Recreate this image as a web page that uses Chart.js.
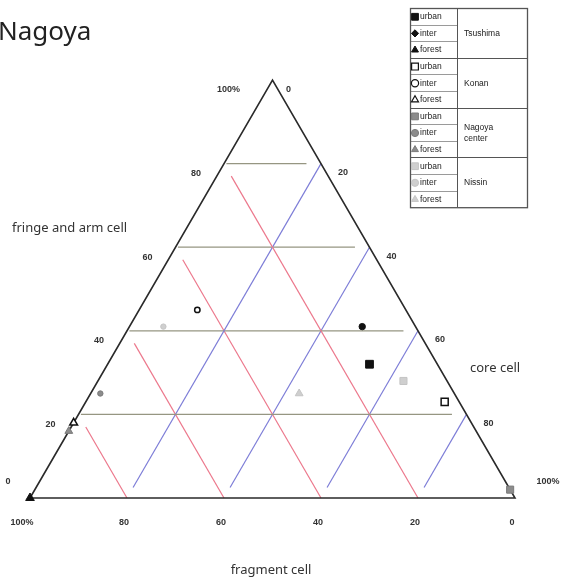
<!DOCTYPE html>
<html>
<head>
<meta charset="utf-8">
<script src="https://cdn.jsdelivr.net/npm/chart.js@4.4.0/dist/chart.umd.min.js"></script>
<style>
html, body { margin: 0; padding: 0; background: #fff; }
canvas { display: block; }
</style>
</head>
<body>
<canvas id="ternChart" width="561" height="581"></canvas>
<script>
const sites = ['Tsushima', 'Konan', 'Nagoya center', 'Nissin'];
const landUse = ['urban', 'inter', 'forest'];

// percent of fringe and arm cell / core cell / fragment cell (urban, inter, forest)
const fringeTsushima = [32, 41, 0];
const coreTsushima = [54, 48, 0];
const fragmentTsushima = [14, 11, 100];

const fringeKonan = [23, 45, 18];
const coreKonan = [74, 12, 0];
const fragmentKonan = [3, 43, 82];

const fringeNagoya = [2, 25, 16];
const coreNagoya = [98, 2, 0];
const fragmentNagoya = [0, 73, 84];

const fringeNissin = [28, 41, 25];
const coreNissin = [63, 7, 43];
const fragmentNissin = [9, 52, 32];

const gridLevels = [20, 40, 60, 80];
const fringeTicks = ['0', '20', '40', '60', '80', '100%'];
const coreTicks = ['0', '20', '40', '60', '80', '100%'];
const fragmentTicks = ['0', '20', '40', '60', '80', '100%'];

const H = Math.sqrt(3) / 2;

// ternary -> cartesian (fringe at top, core at bottom right, fragment at bottom left)
function tern(fr, co, fg) {
    let s = fr + co + fg;
    return { x: (co + fr / 2) / s, y: fr / s * H };
}

const siteStyles = [
    { fill: '#111', border: '#111' },
    { fill: '#fff', border: '#111' },
    { fill: '#8c8c8c', border: '#7a7a7a' },
    { fill: '#cfcfcf', border: '#c4c4c4' }
];
const shapes = ['rect', 'circle', 'triangle'];
const sizes = [5.5, 3.2, 5];

let siteData = [
    [fringeTsushima, coreTsushima, fragmentTsushima],
    [fringeKonan, coreKonan, fragmentKonan],
    [fringeNagoya, coreNagoya, fragmentNagoya],
    [fringeNissin, coreNissin, fragmentNissin]
];

let datasets = [];

siteData.forEach((d, si) => {
    landUse.forEach((lu, li) => {
        datasets.push({
            label: sites[si] + ' ' + lu,
            type: 'scatter',
            data: [tern(d[0][li], d[1][li], d[2][li])],
            pointStyle: shapes[li],
            pointRadius: si === 0 ? sizes[li] : sizes[li] - 0.5,
            backgroundColor: siteStyles[si].fill,
            borderColor: siteStyles[si].border,
            borderWidth: si === 1 ? 1.5 : 1,
            order: 0
        });
    });
});

function lineSet(a, b, color, width) {
    return {
        type: 'line',
        data: [a, b],
        borderColor: color,
        borderWidth: width,
        pointRadius: 0,
        fill: false,
        order: 2
    };
}

// grid lines
gridLevels.forEach(v => {
    // fringe and arm cell (horizontal)
    datasets.push(lineSet(tern(v, 0.5, 100 - v - 0.5), tern(v, 100 - v - 3, 3), 'rgb(150,150,130)', 1.2));
    // fragment cell (parallel to right side)
    datasets.push(lineSet(tern(100 - v - 3, 3, v), tern(0, 100 - v, v), 'rgb(236,120,140)', 1.2));
    // core cell (parallel to left side)
    datasets.push(lineSet(tern(100 - v, v, 0), tern(2.5, v, 100 - v - 2.5), 'rgb(125,125,215)', 1.2));
});

// triangle outline
datasets.push({
    type: 'line',
    data: [tern(0, 0, 100), tern(0, 100, 0), tern(100, 0, 0), tern(0, 0, 100)],
    borderColor: '#2a2a2a',
    borderWidth: 1.6,
    pointRadius: 0,
    fill: false,
    order: 1
});

function drawMark(ctx, style, r, x, y, fill, border, bw) {
    ctx.save();
    ctx.fillStyle = fill;
    ctx.strokeStyle = border;
    ctx.lineWidth = bw;
    Chart.helpers.drawPoint(ctx, { pointStyle: style, radius: r, rotation: 0, borderWidth: bw }, x, y);
    ctx.restore();
}

const ternaryText = {
    id: 'ternaryText',
    afterDraw(chart) {
        let ctx = chart.ctx;
        let sx = chart.scales.x, sy = chart.scales.y;
        let px = p => ({ x: sx.getPixelForValue(p.x), y: sy.getPixelForValue(p.y) });
        ctx.save();

        // title
        ctx.fillStyle = '#222';
        ctx.font = '26px "Noto Sans"';
        ctx.textAlign = 'left';
        ctx.textBaseline = 'middle';
        ctx.fillText('Nagoya', -2, 33);

        // tick labels
        ctx.font = 'bold 9px "Liberation Sans"';
        ctx.textAlign = 'center';
        ctx.fillStyle = '#333';
        fringeTicks.forEach((lab, i) => {
            let v = i * 20;
            let p = px(tern(v, 0, 100 - v));
            let dx = -28, dy = 10;
            if (v === 0) { dx = -22; dy = -16; }
            if (v === 100) { dx = -44; }
            ctx.fillText(lab, p.x + dx, p.y + dy);
        });
        coreTicks.forEach((lab, i) => {
            let v = i * 20;
            let p = px(tern(100 - v, v, 0));
            let dx = 22, dy = 9;
            if (v === 0) { dx = 16; dy = 10; }
            if (v === 100) { dx = 33; dy = -16; }
            ctx.fillText(lab, p.x + dx, p.y + dy);
        });
        fragmentTicks.forEach((lab, i) => {
            let v = i * 20;
            let p = px(tern(0, 100 - v, v));
            let dx = -3;
            if (v === 100) dx = -8;
            ctx.fillText(lab, p.x + dx, p.y + 25);
        });

        // axis titles
        ctx.font = '13px "Noto Sans"';
        ctx.fillStyle = '#333';
        ctx.textAlign = 'left';
        ctx.fillText('fringe and arm cell', 12, 228);
        ctx.fillText('core cell', 470, 368);
        ctx.textAlign = 'center';
        ctx.fillText('fragment cell', 271, 570);

        // legend table
        let tx = 410, ty = 8, tw = 117, rh = 16.6, cw = 47;
        ctx.lineWidth = 1;
        for (let r = 1; r < 12; r++) {
            let y = Math.round(ty + r * rh) + 0.5;
            ctx.beginPath();
            ctx.moveTo(tx, y);
            ctx.lineTo(r % 3 === 0 ? tx + tw : tx + cw, y);
            ctx.strokeStyle = r % 3 === 0 ? '#555' : '#9a9a9a';
            ctx.stroke();
        }
        ctx.strokeStyle = '#555';
        ctx.beginPath();
        ctx.moveTo(tx + cw + 0.5, ty);
        ctx.lineTo(tx + cw + 0.5, ty + 12 * rh);
        ctx.stroke();
        ctx.lineWidth = 1.3;
        ctx.strokeRect(tx + 0.5, ty + 0.5, tw, 12 * rh);

        ctx.font = '8.5px "Liberation Sans"';
        ctx.textBaseline = 'middle';
        sites.forEach((s, si) => {
            landUse.forEach((lu, li) => {
                let r = si * 3 + li;
                let cy = ty + r * rh + rh / 2 + 0.5;
                let shape = (si === 0 && li === 1) ? 'rectRot' : shapes[li];
                let rad = li === 0 ? 4.8 : (li === 1 ? 3.6 : 4);
                drawMark(ctx, shape, rad, tx + 5, cy, siteStyles[si].fill, siteStyles[si].border, si === 1 ? 1.2 : 1);
                ctx.fillStyle = '#222';
                ctx.textAlign = 'left';
                ctx.fillText(lu, tx + 10, cy);
            });
            let gy = ty + si * 3 * rh + 1.5 * rh + 0.5;
            let parts = s === 'Nagoya center' ? ['Nagoya', 'center'] : [s];
            parts.forEach((t, k) => {
                ctx.fillText(t, tx + cw + 7, gy + (k - (parts.length - 1) / 2) * 11);
            });
        });

        ctx.restore();
    }
};

let ctx = document.getElementById('ternChart').getContext('2d');
let chart = new Chart(ctx, {
    data: { datasets: datasets },
    options: {
        responsive: false,
        animation: false,
        devicePixelRatio: 1,
        layout: { padding: { left: 30, right: 46, top: 80, bottom: 83 } },
        scales: {
            x: { type: 'linear', min: 0, max: 1, display: false },
            y: { type: 'linear', min: 0, max: H, display: false }
        },
        plugins: {
            legend: { display: false },
            tooltip: { enabled: false }
        },
        clip: false
    },
    plugins: [ternaryText]
});
</script>
</body>
</html>
